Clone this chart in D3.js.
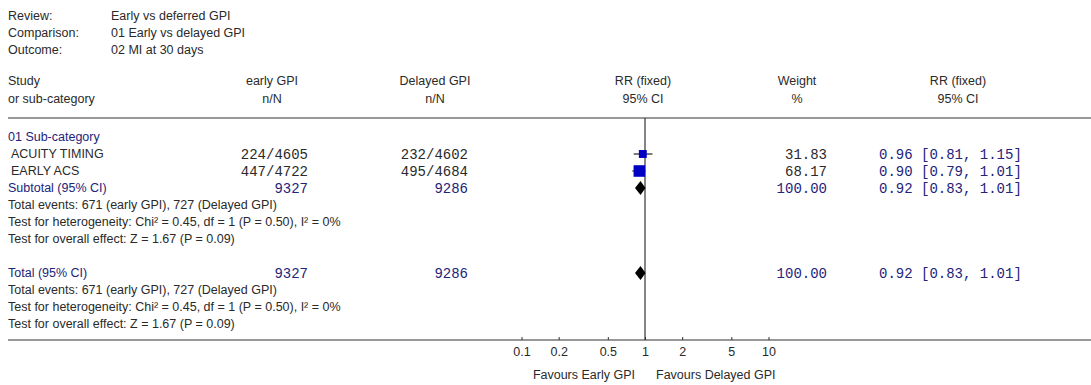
<!DOCTYPE html>
<html>
<head>
<meta charset="utf-8">
<script src="https://cdn.jsdelivr.net/npm/d3@7"></script>
<style>
  html, body { margin: 0; padding: 0; background: #fff; }
  svg { display: block; }
  text { font-family: Arial, "Liberation Sans", sans-serif; font-size: 12.5px; fill: #2a2a2a; }
  .mono { font-family: "Courier New", "Liberation Mono", monospace; font-size: 14px; }
  .navy { fill: #23237a; }
</style>
</head>
<body>
<svg id="chart" width="1091" height="385"></svg>
<script>
// ---- data ----
const metaLabels = ["Review:", "Comparison:", "Outcome:"];
const metaValues = ["Early vs deferred GPI", "01 Early vs delayed GPI", "02 MI at 30 days"];
const groupName = "01 Sub-category";
const studies = ["ACUITY TIMING", "EARLY ACS"];
const earlyNN = ["224/4605", "447/4722"];
const delayedNN = ["232/4602", "495/4684"];
const weights = [31.83, 68.17];
const rr = [0.96, 0.90];
const rrLow = [0.81, 0.79];
const rrHigh = [1.15, 1.01];
const pooledRR = [0.92];
const pooledLow = [0.83];
const pooledHigh = [1.01];
const totalEarly = [9327];
const totalDelayed = [9286];
const totalWeight = [100.00];
const summaryLines = [
  "Total events: 671 (early GPI), 727 (Delayed GPI)",
  "Test for heterogeneity: Chi\u00B2 = 0.45, df = 1 (P = 0.50), I\u00B2 = 0%",
  "Test for overall effect: Z = 1.67 (P = 0.09)"
];
const tickValues = [0.1, 0.2, 0.5, 1, 2, 5, 10];
const favoursLeft = "Favours Early GPI";
const favoursRight = "Favours Delayed GPI";

// ---- layout ----
const svg = d3.select("#chart");
const W = 1091;
const leftX = 8;
const rowH = 17;
const colEarlyRight = 308, colDelayedRight = 468, colWeightRight = 827, colCIx = 879;
const x = d3.scaleLog().domain([0.1, 10]).range([521.5, 768.5]);
const sq = d3.scaleSqrt().domain([0, 100]).range([0, 14]);
const fmt2 = d3.format(".2f");

function txt(xp, y, s, opts = {}) {
  const t = svg.append("text").attr("x", xp).attr("y", y).attr("dy", "0.35em").text(s);
  if (opts.anchor) t.attr("text-anchor", opts.anchor);
  if (opts.cls) t.attr("class", opts.cls);
  return t;
}

// header meta
metaLabels.forEach((l, i) => {
  txt(leftX, 16 + i * rowH, l);
  txt(111, 16 + i * rowH, metaValues[i]);
});

// column headers
const hy1 = 81, hy2 = 99;
txt(leftX, hy1, "Study"); txt(leftX, hy2, "or sub-category");
txt(272, hy1, "early GPI", {anchor: "middle"}); txt(272, hy2, "n/N", {anchor: "middle"});
txt(435, hy1, "Delayed GPI", {anchor: "middle"}); txt(435, hy2, "n/N", {anchor: "middle"});
txt(643, hy1, "RR (fixed)", {anchor: "middle"}); txt(643, hy2, "95% CI", {anchor: "middle"});
txt(797, hy1, "Weight", {anchor: "middle"}); txt(797, hy2, "%", {anchor: "middle"});
txt(958, hy1, "RR (fixed)", {anchor: "middle"}); txt(958, hy2, "95% CI", {anchor: "middle"});

const lineTop = 118, axisY = 340;
svg.append("line").attr("x1", leftX).attr("x2", W).attr("y1", lineTop).attr("y2", lineTop)
  .attr("stroke", "#333").attr("stroke-width", 1.2);

// reference line at 1
svg.append("line").attr("x1", x(1)).attr("x2", x(1)).attr("y1", lineTop).attr("y2", axisY)
  .attr("stroke", "#333").attr("stroke-width", 1.2);

// rows
const yGroup = 137;
txt(leftX, yGroup, groupName, {cls: "navy"});
const studyY = studies.map((s, i) => yGroup + rowH * (i + 1));
studies.forEach((s, i) => {
  const y = studyY[i];
  txt(leftX + 3, y, s);
  txt(colEarlyRight, y, earlyNN[i], {anchor: "end", cls: "mono"});
  txt(colDelayedRight, y, delayedNN[i], {anchor: "end", cls: "mono"});
  txt(colWeightRight, y, fmt2(weights[i]), {anchor: "end", cls: "mono"});
  txt(colCIx, y, `${fmt2(rr[i])} [${fmt2(rrLow[i])}, ${fmt2(rrHigh[i])}]`, {cls: "mono navy"});
  svg.append("line").attr("x1", x(rrLow[i])).attr("x2", x(rrHigh[i])).attr("y1", y).attr("y2", y)
    .attr("stroke", "#222").attr("stroke-width", 1.2);
  const s2 = sq(weights[i]);
  svg.append("rect").attr("x", x(rr[i]) - s2 / 2).attr("y", y - s2 / 2)
    .attr("width", s2).attr("height", s2).attr("fill", "#0000c4");
});

function pooledBlock(yLabel, label) {
  txt(leftX, yLabel, label, {cls: "navy"});
  txt(colEarlyRight, yLabel, String(totalEarly[0]), {anchor: "end", cls: "mono navy"});
  txt(colDelayedRight, yLabel, String(totalDelayed[0]), {anchor: "end", cls: "mono navy"});
  txt(colWeightRight, yLabel, fmt2(totalWeight[0]), {anchor: "end", cls: "mono navy"});
  txt(colCIx, yLabel, `${fmt2(pooledRR[0])} [${fmt2(pooledLow[0])}, ${fmt2(pooledHigh[0])}]`, {cls: "mono navy"});
  const h = 7;
  const pts = [[x(pooledLow[0]), yLabel], [x(pooledRR[0]), yLabel - h], [x(pooledHigh[0]), yLabel], [x(pooledRR[0]), yLabel + h]];
  svg.append("path").attr("d", d3.line()(pts) + "Z").attr("fill", "#000");
  summaryLines.forEach((l, i) => txt(leftX, yLabel + rowH * (i + 1), l));
}

const ySub = yGroup + rowH * 3;
pooledBlock(ySub, "Subtotal (95% CI)");
const yTot = ySub + rowH * 5;
pooledBlock(yTot, "Total (95% CI)");

// axis
svg.append("line").attr("x1", leftX).attr("x2", W).attr("y1", axisY).attr("y2", axisY)
  .attr("stroke", "#333").attr("stroke-width", 1.2);
const axis = d3.axisBottom(x).tickValues(tickValues).tickFormat(d3.format("~g"))
  .tickSizeInner(-3).tickSizeOuter(0).tickPadding(7);
const gA = svg.append("g").attr("transform", `translate(0,${axisY})`).call(axis);
gA.select(".domain").remove();
gA.selectAll(".tick line").attr("stroke", "#333");
gA.selectAll(".tick text").attr("font-family", "Arial, 'Liberation Sans', sans-serif")
  .attr("font-size", 12.5).attr("fill", "#2a2a2a");

txt(x(1) - 10, 375, favoursLeft, {anchor: "end"});
txt(x(1) + 11, 375, favoursRight);
</script>
</body>
</html>
